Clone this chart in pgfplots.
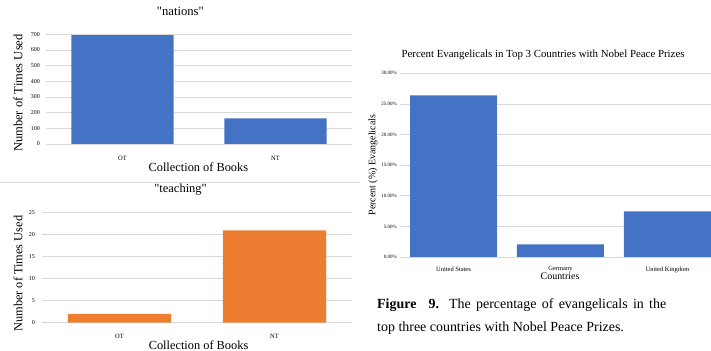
\documentclass[border=0pt]{standalone}
\usepackage{pgfplots}
\pgfplotsset{compat=1.18}
\usepackage{fontspec}
\setmainfont{Liberation Serif}[Ligatures=TeXOff]
\definecolor{xblue}{HTML}{4472C4}
\definecolor{xorange}{HTML}{ED7D31}
\definecolor{xgrid}{HTML}{D9D9D9}
\pgfplotsset{xlstyle/.style={
  scale only axis, axis line style={draw=none}, tick style={draw=none},
  ymajorgrids, grid style={xgrid, line width=0.6pt},
  ybar, ymin=0, xtick=data, clip=true,
  /pgf/number format/assume math mode=true,
  every axis title/.append style={inner sep=0pt},
  every axis x label/.append style={inner sep=0pt},
  every axis y label/.append style={inner sep=0pt},
}}
\begin{document}
\begin{tikzpicture}
\path[use as bounding box] (0bp,0bp) rectangle (711bp,351bp);
\draw[xgrid, line width=0.6pt] (0bp,169bp) -- (360bp,169bp);

% Chart 1: "nations"
\begin{axis}[xlstyle, at={(46bp,207bp)}, anchor=south west,
  width=306bp, height=109.7bp,
  xmin=-0.5, xmax=1.5, ymax=700, ytick={0,100,...,700}, bar width=0.667,
  xticklabels={OT,NT},
  title={"nations"},
  xlabel={Collection of Books},
  ylabel={Number of Times Used},
  title style={at={(axis description cs:0.439,1.155)}, anchor=center, font=\fontsize{12.7}{14}\selectfont},
  xlabel style={at={(axis description cs:0.498,-0.2097)}, anchor=center, font=\fontsize{12.4}{14}\selectfont},
  ylabel style={at={(axis description cs:-0.0915,0.464)}, anchor=center, font=\fontsize{12.6}{14}\selectfont},
  xticklabel style={anchor=center, inner sep=0pt, yshift=-10.5bp, font=\fontsize{6.5}{7}\selectfont},
  yticklabel style={anchor=east, inner sep=0pt, xshift=-6bp, font=\fontsize{6}{7}\selectfont},
]
\addplot[fill=xblue, draw=none] coordinates {(0,695) (1,164)};
\end{axis}

% Chart 2: "teaching"
\begin{axis}[xlstyle, at={(42bp,28.3bp)}, anchor=south west,
  width=310bp, height=110bp,
  xmin=-0.5, xmax=1.5, ymax=25, ytick={0,5,...,25}, bar width=0.667,
  xticklabels={OT,NT},
  title={"teaching"},
  xlabel={Collection of Books},
  ylabel={Number of Times Used},
  title style={at={(axis description cs:0.447,1.152)}, anchor=center, font=\fontsize{12.5}{14}\selectfont},
  xlabel style={at={(axis description cs:0.505,-0.205)}, anchor=center, font=\fontsize{12.4}{14}\selectfont},
  ylabel style={at={(axis description cs:-0.0774,0.445)}, anchor=center, font=\fontsize{12.4}{14}\selectfont},
  xticklabel style={anchor=center, inner sep=0pt, yshift=-9.3bp, font=\fontsize{6.5}{7}\selectfont},
  yticklabel style={anchor=east, inner sep=0pt, xshift=-7bp, font=\fontsize{6}{7}\selectfont},
]
\addplot[fill=xorange, draw=none] coordinates {(0,2) (1,21)};
\end{axis}

% Chart 3: Percent Evangelicals
\begin{axis}[xlstyle, at={(400bp,94bp)}, anchor=south west,
  width=311bp, height=183.7bp,
  xmin=-0.5, xmax=2.407, ymax=30, ytick={0,5,...,30}, bar width=0.813,
  yticklabels={0.00\%,5.00\%,10.00\%,15.00\%,20.00\%,25.00\%,30.00\%},
  xticklabels={United States,Germany,United Kingdom},
  title={Percent Evangelicals in Top 3 Countries with Nobel Peace Prizes},
  xlabel={Countries},
  ylabel={Percent (\%) Evangelicals},
  title style={at={(axis description cs:0.46,1.0686)}, anchor=center, font=\fontsize{10.9}{12}\selectfont},
  xlabel style={at={(axis description cs:0.5145,-0.1034)}, anchor=center, font=\fontsize{10}{12}\selectfont},
  ylabel style={at={(axis description cs:-0.0868,0.5)}, anchor=center, font=\fontsize{10}{12}\selectfont},
  xticklabel style={anchor=center, inner sep=0pt, yshift=-8.3bp, font=\fontsize{6.5}{7}\selectfont},
  yticklabel style={anchor=east, inner sep=0pt, xshift=-3bp, font=\fontsize{5}{6}\selectfont},
]
\addplot[fill=xblue, draw=none] coordinates {(0,26.4) (1,2.07) (2,7.46)};
\end{axis}

% Caption
\node[anchor=base west, inner sep=0pt, font=\fontsize{14}{16}\selectfont] at (377bp,42bp)
  {\makebox[289bp][s]{\textbf{Figure}\hspace{8bp plus 4bp}\textbf{9.} The percentage of evangelicals in the}};
\node[anchor=base west, inner sep=0pt, font=\fontsize{14}{16}\selectfont] at (377bp,20bp)
  {top three countries with Nobel Peace Prizes.};
\end{tikzpicture}
\end{document}
